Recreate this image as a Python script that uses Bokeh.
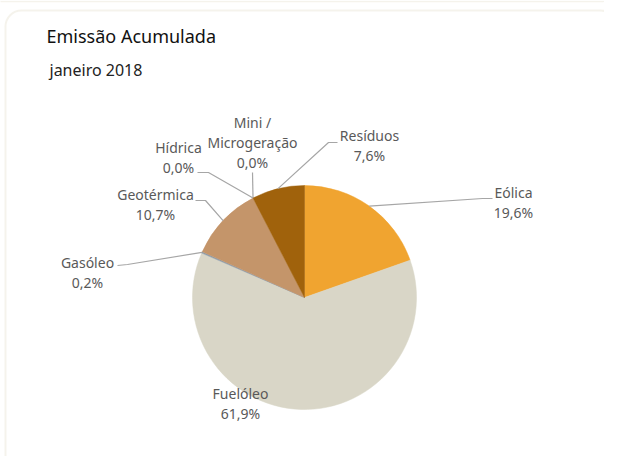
import math
from bokeh.plotting import figure
from bokeh.models import Range1d, BoxAnnotation
from bokeh.core.properties import value
from bokeh.embed import file_html
from bokeh.resources import INLINE

# ---- data ----
categories = ["Eólica", "Fuelóleo", "Gasóleo", "Geotérmica", "Hídrica", "Mini / Microgeração", "Resíduos"]
shares = [19.6, 61.9, 0.2, 10.7, 0.0, 0.0, 7.6]
pct_labels = ["19,6%", "61,9%", "0,2%", "10,7%", "0,0%", "0,0%", "7,6%"]
colors = ["#F0A430", "#D9D6C7", "#8E9CAB", "#C4956A", "#5B9BD5", "#70AD47", "#A0620C"]
title = "Emissão Acumulada"
subtitle = "janeiro 2018"

# ---- layout (pixel coordinates of reference) ----
W, H = 604, 456
def X(x): return x
def Y(y): return H - y

CX, CY, R = 304, 297, 112
FONT = "Noto Sans"
TXT = "#595959"
LEAD = "#A6A6A6"
FRAME = "#DDD8C1"

label_layout = {
    "Eólica":     dict(lines=["Eólica"], x=513, y=192, elbow=[(482, 198), (492, 198)]),
    "Fuelóleo":   dict(lines=["Fuelóleo"], x=240, y=393, elbow=None),
    "Gasóleo":    dict(lines=["Gasóleo"], x=87, y=262, elbow=[(127, 264), (117, 265)]),
    "Geotérmica": dict(lines=["Geotérmica"], x=155, y=194, elbow=[(205, 200), (195, 200)]),
    "Hídrica":    dict(lines=["Hídrica"], x=178, y=147, elbow=[(208, 172), (197, 172)]),
    "Mini / Microgeração": dict(lines=["Mini /", "Microgeração"], x=252, y=122, elbow=[(252, 172)]),
    "Resíduos":   dict(lines=["Resíduos"], x=369, y=135, elbow=[(328, 142), (337, 142)]),
}
LINE_H = 20

p = figure(width=W, height=H, output_backend="svg", toolbar_location=None,
           x_range=Range1d(0, W), y_range=Range1d(0, H), min_border=0,
           outline_line_color=None, background_fill_color="white")
p.axis.visible = False
p.grid.visible = False

# previous panel's bottom edge and this panel's rounded frame
p.add_layout(BoxAnnotation(left=-30, right=616, top=H + 30, bottom=Y(1),
                           fill_alpha=0, line_color=FRAME, line_width=1.5,
                           border_radius=16))
p.add_layout(BoxAnnotation(left=5, right=616, top=Y(10), bottom=-30,
                           fill_alpha=0, line_color=FRAME, line_width=2,
                           border_radius=16))

# titles
p.text(x=[X(46)], y=[Y(35)], text=[title], text_font=value(FONT), text_font_size="18px",
       text_color="#111111", text_baseline="middle", text_align="left")
p.text(x=[X(49)], y=[Y(69)], text=[subtitle], text_font=value(FONT), text_font_size="16px",
       text_color="#222222", text_baseline="middle", text_align="left")

total = sum(shares)
cum = 0.0
for cat, v, col, pl in zip(categories, shares, colors, pct_labels):
    a0 = math.pi / 2 - cum / total * 2 * math.pi
    a1 = math.pi / 2 - (cum + v) / total * 2 * math.pi
    mid = (a0 + a1) / 2
    cum += v
    if v > 0:
        p.wedge(x=[X(CX)], y=[Y(CY)], radius=R, start_angle=[a1], end_angle=[a0],
                direction="anticlock", fill_color=col, line_color=col, line_width=0.5)
    lay = label_layout[cat]
    if lay["elbow"]:
        sx = CX + R * math.cos(mid)
        sy = CY - R * math.sin(mid)
        pts = [(sx, sy)] + lay["elbow"]
        p.line(x=[X(a) for a, b in pts], y=[Y(b) for a, b in pts], line_color=LEAD, line_width=1.2)
    rows = lay["lines"] + [pl]
    for i, t in enumerate(rows):
        p.text(x=[X(lay["x"])], y=[Y(lay["y"] + i * LINE_H)], text=[t], text_font=value(FONT),
               text_font_size="14px", text_color=TXT, text_align="center", text_baseline="middle")

open("out.html", "w").write(file_html(p, INLINE))
